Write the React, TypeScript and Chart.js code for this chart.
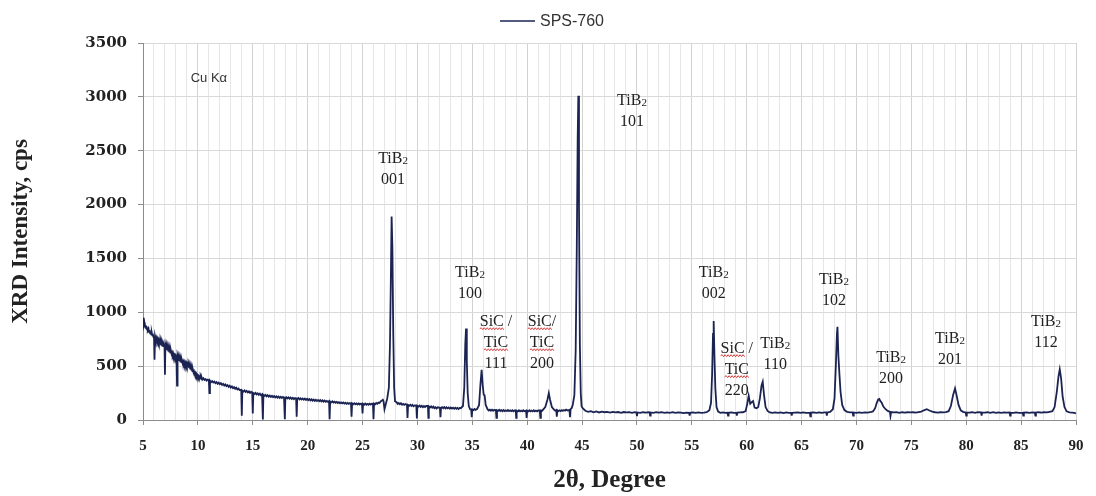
import React, { useEffect, useRef } from 'react';
import { Chart, registerables } from 'chart.js';

Chart.register(...registerables);

const SERIES_LABEL = 'SPS-760';
const X_TITLE = '2θ, Degree';
const Y_TITLE = 'XRD Intensity, cps';
const RADIATION_LABEL = 'Cu Kα';

// [2θ (degree), intensity (cps)]
const lowAngleScan: [number, number][] = [
  [5.0, 950], [5.03, 900], [5.06, 915], [5.09, 880], [5.12, 905], [5.15, 870], [5.18, 885], [5.21, 860],
  [5.25, 878], [5.29, 850], [5.33, 868], [5.37, 840], [5.41, 858], [5.45, 832], [5.5, 848], [5.55, 818],
  [5.6, 835], [5.65, 805], [5.7, 822], [5.75, 795], [5.8, 810], [5.85, 785], [5.9, 800], [5.95, 772],
  [6.0, 782], [6.05, 560], [6.1, 775], [6.15, 750], [6.2, 765], [6.25, 738], [6.3, 755], [6.35, 728],
  [6.4, 745], [6.45, 720], [6.5, 738], [6.55, 708], [6.6, 725], [6.65, 700], [6.7, 715], [6.75, 690],
  [6.8, 705], [6.85, 685], [6.9, 698], [6.96, 680], [7.0, 420], [7.04, 690], [7.1, 665], [7.15, 680],
  [7.2, 655], [7.25, 670], [7.3, 645], [7.35, 660], [7.4, 635], [7.45, 650], [7.5, 625], [7.55, 640],
  [7.6, 615], [7.65, 628], [7.7, 603], [7.75, 618], [7.8, 595], [7.85, 605], [7.9, 585], [7.95, 598],
  [8.0, 578], [8.05, 590], [8.1, 320], [8.15, 585], [8.2, 562], [8.25, 578], [8.3, 555], [8.35, 568],
  [8.4, 545], [8.45, 560], [8.5, 538], [8.55, 552], [8.6, 530], [8.65, 545], [8.7, 522], [8.75, 538],
  [8.8, 515], [8.85, 532], [8.9, 512], [8.95, 528], [9.0, 505], [9.05, 520], [9.1, 498], [9.15, 510],
  [9.2, 488], [9.25, 500], [9.3, 478], [9.35, 490], [9.4, 468], [9.45, 478], [9.5, 455], [9.55, 465],
  [9.6, 442], [9.65, 452], [9.7, 432], [9.75, 440], [9.8, 420], [9.85, 430], [9.9, 410], [9.95, 418],
  [10.0, 402], [10.05, 410], [10.1, 395], [10.15, 402], [10.2, 388], [10.25, 398], [10.3, 382], [10.35, 392],
  [10.4, 375], [10.5, 388], [10.6, 372], [10.7, 380], [10.8, 365], [10.9, 375], [11.0, 368], [11.05, 250],
  [11.1, 365], [11.2, 352], [11.3, 362], [11.4, 348], [11.5, 356], [11.6, 342], [11.7, 352], [11.8, 336],
  [11.9, 346], [12.0, 332], [12.1, 342], [12.2, 326], [12.3, 336], [12.4, 320], [12.5, 330], [12.6, 315],
  [12.7, 324], [12.8, 308], [12.9, 318], [13.0, 302], [13.1, 312], [13.2, 296], [13.3, 305], [13.4, 290],
  [13.5, 300], [13.6, 284], [13.7, 292], [13.8, 278], [13.95, 280], [14.0, 40], [14.05, 272], [14.15, 264],
  [14.25, 274], [14.35, 260], [14.45, 270], [14.55, 256], [14.65, 266], [14.75, 252], [14.85, 262], [14.95, 252],
  [15.0, 60], [15.05, 250], [15.15, 242], [15.25, 252], [15.35, 238], [15.45, 248], [15.55, 234], [15.65, 244],
  [15.75, 230], [15.85, 238], [15.92, 5], [15.97, 232], [16.05, 224], [16.15, 234], [16.25, 220], [16.35, 230],
  [16.45, 216], [16.55, 226], [16.65, 214], [16.75, 224], [16.85, 212], [16.95, 222], [17.05, 210], [17.15, 220],
  [17.25, 208], [17.35, 218], [17.45, 206], [17.55, 216], [17.65, 204], [17.75, 214], [17.85, 208], [17.92, 8],
  [17.97, 206], [18.05, 212], [18.15, 200], [18.25, 210], [18.35, 198], [18.45, 208], [18.55, 196], [18.65, 206],
  [18.75, 194], [18.85, 204], [18.95, 200], [19.0, 30], [19.05, 198], [19.15, 204], [19.25, 192], [19.35, 202],
  [19.45, 190], [19.55, 200], [19.65, 188], [19.75, 198], [19.85, 186], [19.95, 196], [20.05, 184], [20.15, 194],
  [20.25, 182], [20.35, 192], [20.45, 180], [20.55, 190], [20.65, 178], [20.75, 188], [20.85, 176], [20.95, 186],
  [21.05, 174], [21.15, 184], [21.25, 172], [21.35, 182], [21.45, 170], [21.55, 180], [21.65, 170], [21.75, 178],
  [21.85, 168], [21.95, 176], [22.0, 8], [22.05, 172], [22.15, 164], [22.25, 174], [22.35, 162], [22.45, 170],
  [22.55, 160], [22.65, 168], [22.75, 158], [22.85, 166], [22.95, 156], [23.05, 164], [23.15, 154], [23.25, 162],
  [23.35, 152], [23.45, 160], [23.55, 150], [23.65, 158], [23.75, 150], [23.85, 158], [23.95, 152], [24.0, 30],
  [24.05, 154], [24.15, 146], [24.25, 156], [24.35, 146], [24.45, 154], [24.55, 144], [24.65, 154], [24.75, 144],
  [24.85, 152], [24.95, 150], [25.0, 60], [25.05, 150], [25.15, 142], [25.25, 152], [25.35, 142], [25.45, 150],
  [25.55, 142], [25.65, 152], [25.75, 144], [25.85, 152], [25.95, 150], [26.0, 8], [26.05, 152], [26.15, 146],
  [26.25, 158], [26.35, 150], [26.45, 162], [26.55, 158], [26.65, 172], [26.75, 180], [26.85, 188], [26.92, 170],
  [27.0, 100], [27.1, 140], [27.25, 200], [27.4, 300], [27.5, 700], [27.58, 1300], [27.65, 1890], [27.72, 1600],
  [27.8, 800], [27.88, 300], [27.96, 175],
];

const midAngleScan: [number, number][] = [
  [28.1, 165], [28.2, 150], [28.3, 158], [28.4, 146], [28.5, 156], [28.6, 142], [28.7, 150], [28.8, 140],
  [28.9, 148], [29.05, 140], [29.1, 20], [29.15, 140], [29.25, 132], [29.35, 142], [29.45, 130], [29.55, 140],
  [29.65, 128], [29.75, 136], [29.9, 134], [29.95, 15], [30.0, 132], [30.1, 124], [30.2, 134], [30.3, 122],
  [30.4, 132], [30.5, 120], [30.6, 130], [30.7, 120], [30.8, 130], [30.96, 130], [31.0, 20], [31.04, 126],
  [31.15, 116], [31.25, 126], [31.35, 114], [31.45, 124], [31.55, 110], [31.65, 118], [31.75, 108], [31.85, 118],
  [32.05, 114], [32.1, 25], [32.15, 112], [32.25, 120], [32.35, 110], [32.45, 120], [32.55, 108], [32.65, 118],
  [32.75, 108], [32.85, 116], [32.95, 106], [33.05, 116], [33.15, 106], [33.25, 114], [33.35, 104], [33.45, 114],
  [33.55, 104], [33.65, 112], [33.75, 102], [33.85, 112], [33.95, 110], [34.15, 130], [34.27, 300], [34.36, 700],
  [34.43, 850], [34.5, 550], [34.58, 250], [34.68, 130], [34.8, 100], [34.9, 96], [34.95, 25], [35.0, 98],
  [35.1, 92], [35.2, 102], [35.3, 94], [35.45, 104], [35.62, 140], [35.74, 330], [35.85, 465], [35.95, 320],
  [36.04, 235], [36.12, 230], [36.22, 140], [36.4, 98], [36.5, 88], [36.6, 96], [36.7, 86], [36.8, 96],
  [36.9, 86], [37.0, 94], [37.15, 92], [37.2, 20], [37.25, 90], [37.35, 84], [37.45, 94], [37.55, 84],
  [37.65, 92], [37.75, 82], [37.85, 92], [37.95, 82], [38.05, 90], [38.15, 82], [38.25, 92], [38.35, 82],
  [38.45, 90], [38.55, 82], [38.65, 90], [38.75, 80], [38.85, 88], [38.96, 88], [39.0, 20], [39.04, 86],
  [39.15, 80], [39.25, 90], [39.35, 80], [39.45, 88], [39.55, 80], [39.65, 90], [39.75, 82], [39.9, 86],
  [39.95, 20], [40.0, 86], [40.1, 80], [40.2, 90], [40.3, 80], [40.4, 88], [40.5, 80], [40.6, 90],
  [40.7, 80], [40.8, 88], [40.9, 80], [41.0, 88], [41.15, 88], [41.2, 20], [41.25, 88], [41.35, 84],
  [41.45, 96], [41.65, 120], [41.85, 190], [41.97, 250], [42.08, 190], [42.25, 120], [42.45, 96], [42.55, 86],
  [42.65, 92], [42.7, 30], [42.75, 90], [42.85, 82], [42.95, 90], [43.05, 82], [43.15, 92], [43.25, 84],
  [43.35, 92], [43.45, 86], [43.55, 96], [43.7, 88], [43.85, 95], [43.9, 25], [43.95, 100], [44.05, 110],
  [44.15, 140], [44.3, 230], [44.42, 650], [44.52, 1600], [44.6, 2600], [44.66, 3010], [44.72, 2000], [44.8, 700],
  [44.88, 250], [44.96, 125], [45.1, 105],
];

const highAngleScan: [number, number][] = [
  [45.3, 86], [45.55, 76], [45.8, 82], [46.05, 72], [46.3, 80], [46.55, 70], [46.8, 78], [47.05, 72],
  [47.3, 76], [47.55, 68], [47.8, 75], [48.05, 70], [48.3, 74], [48.55, 66], [48.8, 74], [49.05, 70],
  [49.3, 72], [49.55, 66], [49.8, 72], [49.95, 70], [50.0, 35], [50.05, 70], [50.3, 66], [50.55, 72],
  [50.8, 68], [51.05, 72], [51.15, 70], [51.2, 40], [51.25, 70], [51.5, 66], [51.75, 72], [52.0, 68],
  [52.25, 72], [52.5, 66], [52.75, 70], [53.0, 66], [53.25, 72], [53.5, 66], [53.75, 70], [54.0, 68],
  [54.25, 64], [54.5, 68], [54.75, 66], [54.8, 40], [54.85, 66], [55.1, 70], [55.35, 66], [55.6, 70],
  [55.85, 66], [56.1, 68], [56.35, 72], [56.6, 90], [56.75, 160], [56.85, 430], [56.93, 800], [56.99, 920],
  [57.06, 600], [57.14, 300], [57.25, 120], [57.4, 78], [57.6, 66], [57.85, 70], [58.05, 66], [58.25, 68],
  [58.3, 40], [58.35, 66], [58.6, 70], [58.85, 66], [59.05, 68], [59.1, 40], [59.15, 68], [59.4, 70],
  [59.65, 72], [59.9, 82], [60.05, 150], [60.18, 225], [60.32, 150], [60.45, 165], [60.58, 175], [60.72, 115],
  [60.9, 110], [61.05, 120], [61.2, 200], [61.35, 320], [61.46, 355], [61.58, 230], [61.72, 120], [61.9, 84],
  [62.1, 70], [62.35, 66], [62.6, 70], [62.85, 66], [63.1, 70], [63.35, 64], [63.6, 70], [63.85, 66],
  [64.05, 66], [64.1, 40], [64.15, 66], [64.4, 68], [64.65, 70], [64.9, 66], [65.15, 70], [65.4, 66],
  [65.75, 68], [65.8, 35], [65.85, 68], [66.1, 70], [66.35, 66], [66.6, 70], [66.85, 66], [67.1, 70],
  [67.25, 70], [67.3, 40], [67.35, 70], [67.6, 76], [67.85, 100], [68.0, 200], [68.12, 500], [68.22, 800],
  [68.27, 865], [68.35, 600], [68.45, 420], [68.55, 260], [68.7, 140], [68.9, 92], [69.15, 76], [69.4, 70],
  [69.65, 70], [69.7, 40], [69.75, 70], [70.0, 66], [70.25, 70], [70.5, 66], [70.75, 70], [71.0, 68],
  [71.25, 72], [71.5, 80], [71.7, 110], [71.85, 160], [71.98, 190], [72.08, 195], [72.18, 175], [72.3, 160],
  [72.45, 125], [72.65, 100], [72.85, 84], [73.05, 76], [73.1, 40], [73.15, 74], [73.4, 70], [73.65, 72],
  [73.9, 66], [74.15, 72], [74.4, 68], [74.65, 72], [74.9, 70], [75.15, 72], [75.4, 68], [75.65, 74],
  [75.9, 78], [76.15, 90], [76.4, 100], [76.65, 88], [76.9, 78], [77.15, 72], [77.4, 68], [77.65, 72],
  [77.9, 70], [78.15, 74], [78.4, 82], [78.6, 130], [78.8, 230], [78.98, 293], [79.12, 230], [79.3, 140],
  [79.5, 90], [79.7, 76], [79.9, 72], [79.95, 70], [80.0, 40], [80.05, 70], [80.3, 68], [80.55, 72],
  [80.8, 66], [81.05, 72], [81.35, 70], [81.4, 40], [81.45, 70], [81.7, 68], [81.95, 72], [82.2, 66],
  [82.45, 72], [82.7, 66], [82.95, 70], [83.2, 66], [83.45, 70], [83.7, 68], [83.95, 70], [84.0, 40],
  [84.05, 68], [84.3, 66], [84.55, 70], [84.8, 66], [85.15, 68], [85.2, 40], [85.25, 68], [85.5, 70],
  [85.75, 66], [86.0, 70], [86.25, 68], [86.3, 40], [86.35, 70], [86.6, 72], [86.85, 68], [87.1, 72],
  [87.35, 70], [87.6, 76], [87.85, 82], [88.05, 120], [88.25, 260], [88.4, 400], [88.52, 470], [88.64, 390],
  [88.78, 220], [88.95, 120], [89.15, 80], [89.4, 70], [89.65, 68], [89.85, 66], [90.0, 62],
];

const xMin = 5;
const xMax = 90;
const xLabelEvery = 5;
const yMin = 0;
const yMax = 3500;
const yStep = 500;

// peak labels anchored in data units (2θ, cps) at the first text line
const peakLabels = [
  { x: 27.78, y: 2435, lines: ['TiB₂', '001'] },
  { x: 49.55, y: 2972, lines: ['TiB₂', '101'] },
  { x: 34.79, y: 1380, lines: ['TiB₂', '100'] },
  { x: 37.16, y: 926, lines: ['SiC /', 'TiC', '111'] },
  { x: 41.35, y: 926, lines: ['SiC/', 'TiC', '200'] },
  { x: 57.0, y: 1380, lines: ['TiB₂', '002'] },
  { x: 59.1, y: 676, lines: ['SiC /', 'TiC', '220'] },
  { x: 62.6, y: 722, lines: ['TiB₂', '110'] },
  { x: 67.95, y: 1315, lines: ['TiB₂', '102'] },
  { x: 73.15, y: 593, lines: ['TiB₂', '200'] },
  { x: 78.52, y: 768, lines: ['TiB₂', '201'] },
  { x: 87.27, y: 926, lines: ['TiB₂', '112'] },
];
const radiationAnchor = { x: 11.0, y: 3167 };

const LINE_COLOR = '#1b2352';
const TEXT_COLOR = '#222222';

const MAIN_FONT = "16px 'Liberation Serif', 'Times New Roman', serif";
const SUB_FONT = "11px 'Liberation Serif', 'Times New Roman', serif";

function drawWavy(ctx: CanvasRenderingContext2D, x0: number, x1: number, y: number) {
  ctx.save();
  ctx.strokeStyle = '#d83a3a';
  ctx.lineWidth = 1;
  ctx.beginPath();
  let up = true;
  ctx.moveTo(x0, y);
  for (let x = x0 + 1.5; x <= x1; x += 1.5) {
    ctx.lineTo(x, up ? y - 1 : y + 1);
    up = !up;
  }
  ctx.stroke();
  ctx.restore();
}

function drawLabelLine(ctx: CanvasRenderingContext2D, text: string, cx: number, cy: number) {
  const baseline = cy + 5.5;
  ctx.fillStyle = TEXT_COLOR;
  ctx.textBaseline = 'alphabetic';
  ctx.textAlign = 'left';
  if (text.includes('₂')) {
    const [head] = text.split('₂');
    ctx.font = MAIN_FONT;
    const wHead = ctx.measureText(head).width;
    ctx.font = SUB_FONT;
    const wSub = ctx.measureText('2').width;
    const start = cx - (wHead + wSub) / 2;
    ctx.font = MAIN_FONT;
    ctx.fillText(head, start, baseline);
    ctx.font = SUB_FONT;
    ctx.fillText('2', start + wHead, baseline + 1);
  } else {
    ctx.font = MAIN_FONT;
    const w = ctx.measureText(text).width;
    const start = cx - w / 2;
    ctx.fillText(text, start, baseline);
    if (/^(SiC|TiC)/.test(text)) {
      const wWord = ctx.measureText(text.slice(0, 3)).width;
      drawWavy(ctx, start, start + wWord, baseline + 3);
    }
  }
}

const annotationPlugin = {
  id: 'xrdAnnotations',
  afterDatasetsDraw(chart: any) {
    const ctx: CanvasRenderingContext2D = chart.ctx;
    const xs = chart.scales.x;
    const ys = chart.scales.y;
    ctx.save();
    for (const lab of peakLabels) {
      const cx = xs.getPixelForValue(lab.x);
      const cy = ys.getPixelForValue(lab.y);
      lab.lines.forEach((line, i) => drawLabelLine(ctx, line, cx, cy + i * 21));
    }
    // radiation label
    ctx.font = "13px 'Liberation Sans', Arial, sans-serif";
    ctx.fillStyle = '#333333';
    ctx.textAlign = 'center';
    ctx.textBaseline = 'middle';
    ctx.fillText(RADIATION_LABEL, xs.getPixelForValue(radiationAnchor.x), ys.getPixelForValue(radiationAnchor.y));

    // legend
    ctx.font = "16px 'Liberation Sans', Arial, sans-serif";
    const tw = ctx.measureText(SERIES_LABEL).width;
    const lineLen = 35;
    const gap = 5;
    const total = lineLen + gap + tw;
    const start = chart.width / 2 - total / 2 + 4;
    const ly = 21;
    ctx.strokeStyle = LINE_COLOR;
    ctx.lineWidth = 1.5;
    ctx.beginPath();
    ctx.moveTo(start, ly);
    ctx.lineTo(start + lineLen, ly);
    ctx.stroke();
    ctx.fillStyle = '#333333';
    ctx.textAlign = 'left';
    ctx.textBaseline = 'middle';
    ctx.fillText(SERIES_LABEL, start + lineLen + gap, ly + 1);
    ctx.restore();
  },
};

export default function App() {
  const canvasRef = useRef<HTMLCanvasElement | null>(null);

  useEffect(() => {
    if (!canvasRef.current) return;
    const points = [...lowAngleScan, ...midAngleScan, ...highAngleScan].map(([x, y]) => ({ x, y }));
    const chart = new Chart(canvasRef.current, {
      type: 'line',
      data: {
        datasets: [
          {
            label: SERIES_LABEL,
            data: points,
            borderColor: LINE_COLOR,
            backgroundColor: LINE_COLOR,
            borderWidth: 1.8,
            pointRadius: 0,
            tension: 0,
            fill: false,
          },
        ],
      },
      options: {
        animation: false,
        responsive: false,
        devicePixelRatio: 1,
        parsing: false as any,
        layout: { padding: { left: 0, right: 20, top: 43, bottom: 0 } },
        plugins: {
          legend: { display: false },
          tooltip: { enabled: false },
        },
        scales: {
          x: {
            type: 'linear',
            min: xMin,
            max: xMax,
            afterFit: (scale: any) => {
              scale.height = 76;
            },
            ticks: {
              stepSize: 1,
              autoSkip: false,
              maxRotation: 0,
              padding: 12,
              color: TEXT_COLOR,
              font: { family: "'Liberation Serif', 'Times New Roman', serif", size: 15, weight: 'bold' },
              callback: (v: any) => (Math.round(v) % xLabelEvery === 0 ? String(Math.round(v)) : ''),
            },
            grid: {
              color: (c: any) => (Math.round(c.tick?.value ?? 0) % xLabelEvery === 0 ? '#d2d2d2' : '#e6e6e6'),
              tickColor: (c: any) => (Math.round(c.tick?.value ?? 0) % xLabelEvery === 0 ? '#8c8c8c' : 'rgba(0,0,0,0)'),
              tickLength: 5,
              lineWidth: 1,
            },
            border: { color: '#8c8c8c', width: 1 },
            title: {
              display: true,
              text: X_TITLE,
              color: TEXT_COLOR,
              font: { family: "'Liberation Serif', 'Times New Roman', serif", size: 25, weight: 'bold' },
              padding: { top: 0, bottom: 0 },
            },
          },
          y: {
            type: 'linear',
            min: yMin,
            max: yMax,
            afterFit: (scale: any) => {
              scale.width = 143;
            },
            ticks: {
              stepSize: yStep,
              padding: 11,
              color: TEXT_COLOR,
              font: { family: "'DejaVu Serif', serif", size: 15, weight: 'bold' },
              callback: (v: any) => String(v),
            },
            grid: {
              color: '#d9d9d9',
              tickColor: '#8c8c8c',
              tickLength: 5,
              lineWidth: 1,
            },
            border: { color: '#8c8c8c', width: 1 },
            title: {
              display: true,
              text: Y_TITLE,
              color: TEXT_COLOR,
              font: { family: "'Liberation Serif', 'Times New Roman', serif", size: 23, weight: 'bold' },
              padding: { top: 7, bottom: 0 },
            },
          },
        },
      },
      plugins: [annotationPlugin],
    });
    return () => chart.destroy();
  }, []);

  return (
    <div style={{ position: 'absolute', left: 0, top: 0, width: 1096, height: 496, background: '#ffffff' }}>
      <canvas ref={canvasRef} width={1096} height={496} style={{ display: 'block' }} />
    </div>
  );
}
